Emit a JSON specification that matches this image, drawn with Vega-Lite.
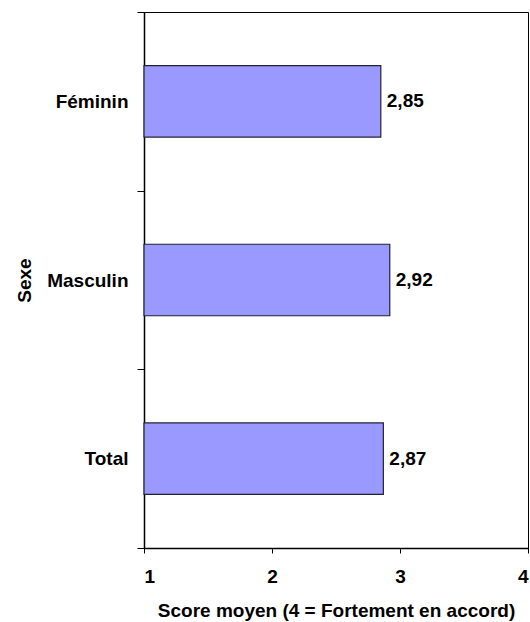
{
  "$schema": "https://vega.github.io/schema/vega-lite/v6.json",
  "width": 384,
  "height": 536,
  "autosize": {"type": "none"},
  "padding": {"left": 144, "top": 12, "right": 2, "bottom": 74},
  "background": "white",
  "data": {
    "values": [
      {"Sexe": "Féminin", "score": 2.85},
      {"Sexe": "Masculin", "score": 2.92},
      {"Sexe": "Total", "score": 2.87}
    ]
  },
  "encoding": {
    "y": {
      "field": "Sexe",
      "type": "nominal",
      "sort": ["Féminin", "Masculin", "Total"],
      "scale": {"paddingInner": 0, "paddingOuter": 0},
      "axis": {
        "title": "Sexe",
        "tickBand": "extent",
        "tickExtra": true,
        "tickSize": 7,
        "labelPadding": 9,
        "titlePadding": 12
      }
    }
  },
  "layer": [
    {
      "mark": {"type": "bar", "fill": "#9999FF", "stroke": "#222233", "strokeWidth": 1.2, "height": {"band": 0.4}},
      "encoding": {
        "x": {
          "field": "score",
          "type": "quantitative",
          "scale": {"domain": [1, 4], "zero": false, "nice": false},
          "axis": {
            "title": "Score moyen (4 = Fortement en accord)",
            "values": [1, 2, 3, 4],
            "format": "d",
            "grid": false,
            "tickSize": 5,
            "labelPadding": 14,
            "titlePadding": 15
          }
        },
        "x2": {"datum": 1}
      }
    },
    {
      "mark": {"type": "text", "align": "left", "baseline": "middle", "dx": 6, "font": "Liberation Sans", "fontWeight": "bold", "fontSize": 19, "color": "black"},
      "encoding": {
        "x": {"field": "score", "type": "quantitative"},
        "text": {"field": "score", "type": "quantitative", "format": ".2f"}
      }
    }
  ],
  "config": {
    "locale": {"number": {"decimal": ",", "thousands": " ", "grouping": [3], "currency": ["", " €"]}},
    "view": {"stroke": "black", "strokeWidth": 1},
    "axis": {
      "labelFont": "Liberation Sans",
      "labelFontWeight": "bold",
      "labelFontSize": 19,
      "labelColor": "black",
      "titleFont": "Liberation Sans",
      "titleFontWeight": "bold",
      "titleFontSize": 19,
      "titleColor": "black",
      "domainColor": "black",
      "domainWidth": 1.5,
      "tickColor": "black",
      "tickWidth": 1,
      "labelOverlap": false,
      "labelBound": false
    }
  }
}
